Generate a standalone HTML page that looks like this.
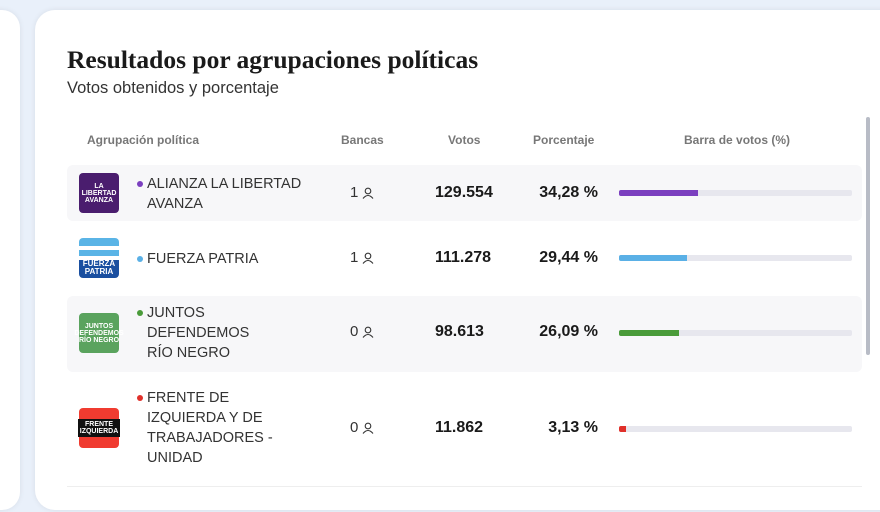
<!DOCTYPE html>
<html><head><meta charset="utf-8"><style>
*{margin:0;padding:0;box-sizing:border-box}
html,body{width:880px;height:512px;overflow:hidden}
body{background:#e9f0fa;position:relative;font-family:"Liberation Sans",sans-serif;color:#222}
.abs{position:absolute}
.lcard{left:-40px;top:10px;width:60px;height:500px;background:#fff;border-radius:18px;box-shadow:0 0 6px rgba(0,0,0,.08)}
.card{left:35px;top:10px;width:900px;height:500px;background:#fff;border-radius:20px;box-shadow:0 0 6px rgba(0,0,0,.08)}
h1{position:absolute;left:67px;top:45px;font-family:"Liberation Serif",serif;font-weight:bold;font-size:25.5px;color:#1a1a1a;white-space:nowrap}
.sub{left:67px;top:79px;font-size:16.5px;color:#333}
.hd{top:133px;font-size:12px;font-weight:bold;color:#777}
.row{left:67px;width:795px;background:#f7f7f9;border-radius:6px}
.logo{left:79px;width:40px;height:40px;border-radius:4px;color:#fff;font-size:7px;font-weight:bold;text-align:center;display:flex;align-items:center;justify-content:center;line-height:1}
.name{left:147px;font-size:14.5px;line-height:20px;color:#333;text-transform:uppercase}
.dot{position:absolute;left:-10px;top:7px;width:6px;height:6px;border-radius:50%}
.ban{left:350px;font-size:15px;color:#333;display:flex;align-items:center;gap:4px}
.vot{left:435px;font-size:16px;font-weight:bold;color:#1a1a1a}
.pct{font-size:16px;font-weight:bold;color:#1a1a1a;width:100px;text-align:right;left:498px}
.bar{left:619px;width:233px;height:6px;background:#e7e7ee;border-radius:2px}
.bar i{display:block;height:6px;border-radius:2px 0 0 2px}
</style></head><body>
<div class="abs lcard"></div>
<div class="abs card"></div>
<h1>Resultados por agrupaciones políticas</h1>
<div class="abs sub">Votos obtenidos y porcentaje</div>
<div class="abs hd" style="left:87px">Agrupación política</div>
<div class="abs hd" style="left:341px">Bancas</div>
<div class="abs hd" style="left:448px">Votos</div>
<div class="abs hd" style="left:533px">Porcentaje</div>
<div class="abs hd" style="left:684px">Barra de votos (%)</div>
<div class="abs" style="left:866px;top:117px;width:4px;height:238px;background:#b8bcc6;border-radius:2px"></div>

<div class="abs row" style="top:165px;height:56px"></div>
<div class="abs row" style="top:296px;height:76px"></div>
<div class="abs" style="left:67px;top:486px;width:795px;height:1px;background:#eee"></div>

<svg width="0" height="0" style="position:absolute"><defs><symbol id="p" viewBox="0 0 12 12"><circle cx="6" cy="4" r="2.8" fill="none" stroke="#333" stroke-width="1.1"/><path d="M1 11.5 Q6 5.5 11 11.5" fill="none" stroke="#333" stroke-width="1.1"/></symbol></defs></svg>

<div class="abs logo" style="top:173px;background:#4a1d6e">LA LIBERTAD AVANZA</div>
<div class="abs name" style="top:174px"><span class="dot" style="background:#7b3fbf"></span>Alianza La Libertad<br>Avanza</div>
<div class="abs ban" style="top:184px">1 <svg width="12" height="12"><use href="#p"/></svg></div>
<div class="abs vot" style="top:184px">129.554</div>
<div class="abs pct" style="top:184px">34,28 %</div>
<div class="abs bar" style="top:190px"><i style="width:79px;background:#7b3fbf"></i></div>

<div class="abs logo" style="top:238px;background:linear-gradient(#5ab4e6 0 20%,#fff 20% 30%,#5ab4e6 30% 45%,#fff 45% 55%,#1a4fa0 55%);font-size:8px;align-items:flex-end;padding-bottom:2px">FUERZA PATRIA</div>
<div class="abs name" style="top:249px"><span class="dot" style="background:#5ab0e6"></span>Fuerza Patria</div>
<div class="abs ban" style="top:249px">1 <svg width="12" height="12"><use href="#p"/></svg></div>
<div class="abs vot" style="top:249px">111.278</div>
<div class="abs pct" style="top:249px">29,44 %</div>
<div class="abs bar" style="top:255px"><i style="width:68px;background:#5ab0e6"></i></div>

<div class="abs logo" style="top:313px;background:#5aa35e">JUNTOS DEFENDEMOS RÍO NEGRO</div>
<div class="abs name" style="top:303px"><span class="dot" style="background:#4a9b3a"></span>Juntos<br>Defendemos<br>Río Negro</div>
<div class="abs ban" style="top:323px">0 <svg width="12" height="12"><use href="#p"/></svg></div>
<div class="abs vot" style="top:323px">98.613</div>
<div class="abs pct" style="top:323px">26,09 %</div>
<div class="abs bar" style="top:330px"><i style="width:60px;background:#4a9b3a"></i></div>

<div class="abs logo" style="top:408px;background:#f03b30"><span style="background:#111;padding:2px">FRENTE IZQUIERDA</span></div>
<div class="abs name" style="top:388px"><span class="dot" style="background:#e0302a"></span>Frente de<br>Izquierda y de<br>Trabajadores -<br>Unidad</div>
<div class="abs ban" style="top:419px">0 <svg width="12" height="12"><use href="#p"/></svg></div>
<div class="abs vot" style="top:419px">11.862</div>
<div class="abs pct" style="top:419px">3,13 %</div>
<div class="abs bar" style="top:426px"><i style="width:7px;background:#e0302a"></i></div>
</body></html>
